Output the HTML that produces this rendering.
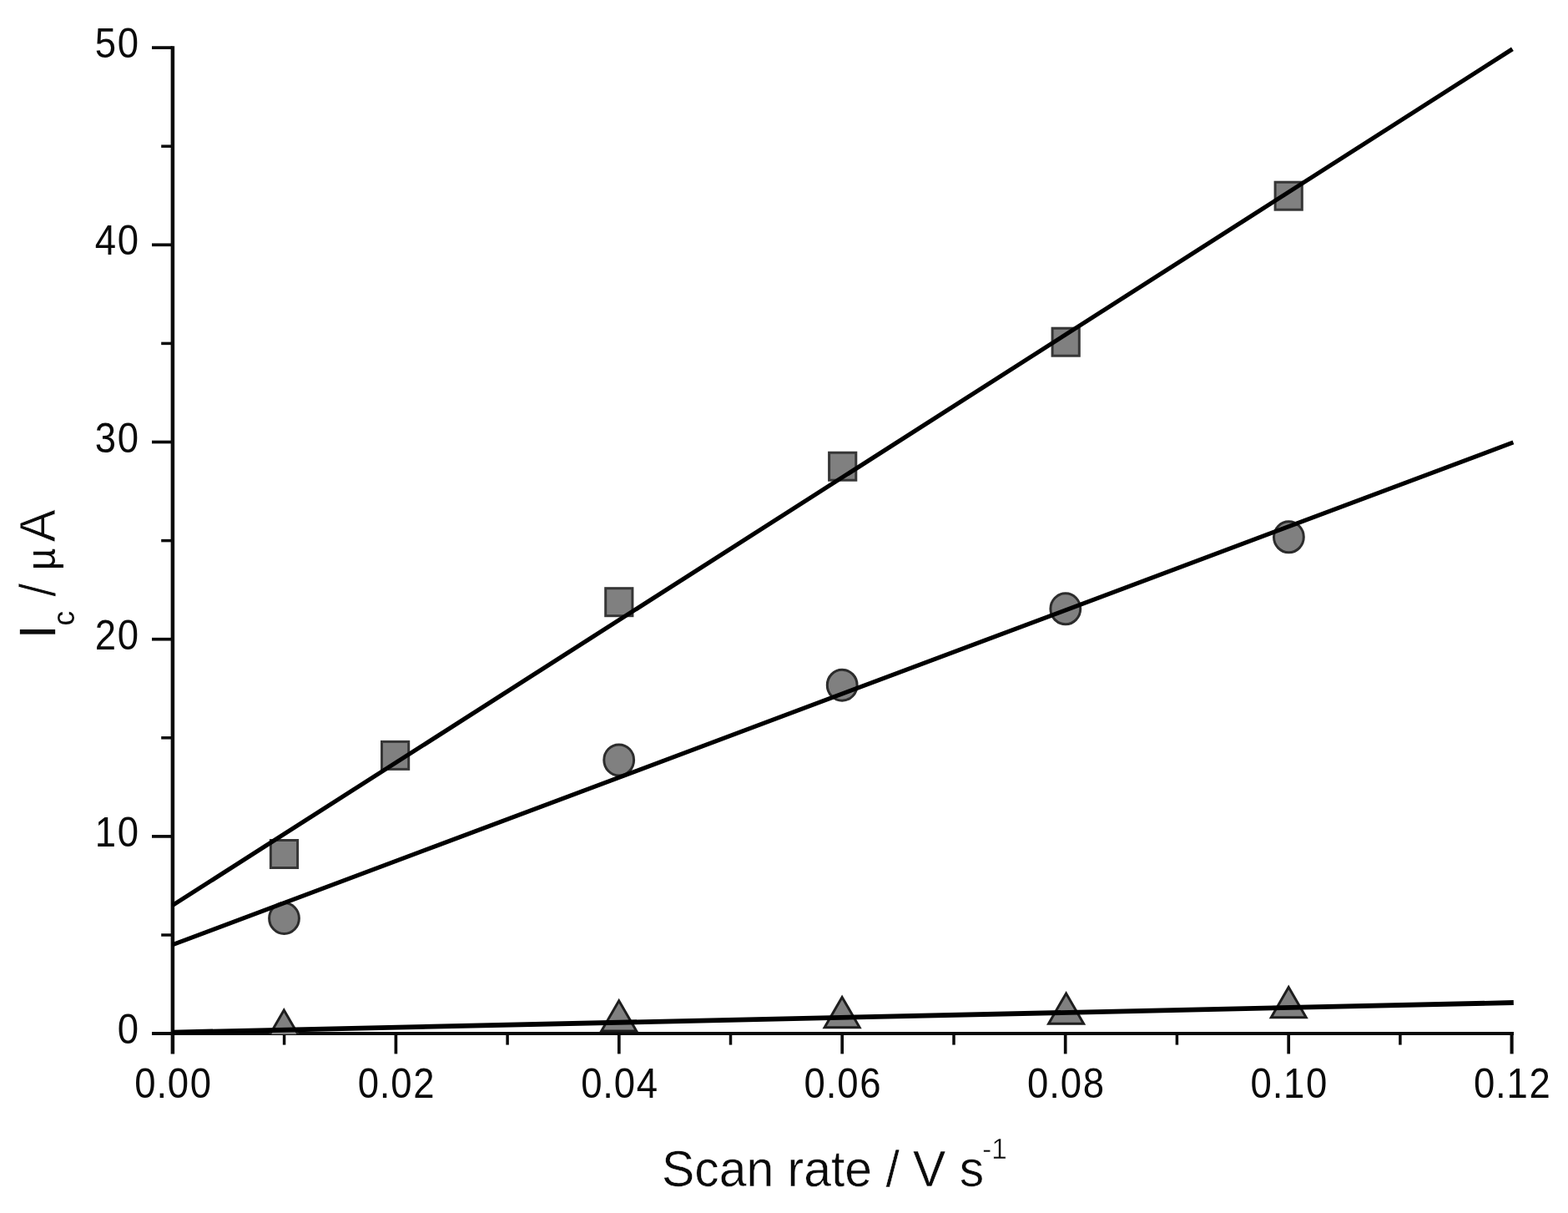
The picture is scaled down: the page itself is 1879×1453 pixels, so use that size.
<!DOCTYPE html>
<html lang="en"><head><meta charset="utf-8"><title>Ic / µA vs Scan rate / V s-1</title>
<style>
html,body{margin:0;padding:0;background:#fff;}
body{width:1879px;height:1453px;}
svg{display:block;}
text{font-family:"Liberation Sans",Arial,Helvetica,sans-serif;fill:#0a0a0a;}
.tk{font-size:50px;}
.tt{font-size:62px;}
.xt{stroke:#fff;stroke-width:0.5;}
.yt{stroke:none;}.thin{stroke:#fff;stroke-width:0.9;}.fat{stroke:#0a0a0a;stroke-width:0.3;}
.ax{stroke:#0a0a0a;fill:none;stroke-linecap:butt;}
.fit{stroke:#000;fill:none;stroke-width:5.2;stroke-linecap:butt;}
.sq{fill:#808080;stroke:#363636;stroke-width:3;}
.ci{fill:#808080;stroke:#2c2c2c;stroke-width:3;}
.tr{fill:#808080;stroke:#1e1e1e;stroke-width:3;stroke-linejoin:miter;}
</style></head><body>
<svg width="1879" height="1453" viewBox="0 0 1879 1453">
<defs><clipPath id="pc"><rect x="204.6" y="0" width="1611" height="1239"/></clipPath>
</defs>
<rect x="0" y="0" width="1879" height="1453" fill="#ffffff"/>
<g>
<g class="ax">
<line x1="206.9" y1="55.2" x2="206.9" y2="1262.6" stroke-width="4.5"/>
<line x1="182.0" y1="1238.1" x2="1814.0" y2="1238.1" stroke-width="4"/>
<line x1="193.2" y1="1120.0" x2="206.9" y2="1120.0" stroke-width="3.5"/>
<line x1="182" y1="1001.9" x2="206.9" y2="1001.9" stroke-width="3.7"/>
<line x1="193.2" y1="883.8" x2="206.9" y2="883.8" stroke-width="3.5"/>
<line x1="182" y1="765.7" x2="206.9" y2="765.7" stroke-width="3.7"/>
<line x1="193.2" y1="647.6" x2="206.9" y2="647.6" stroke-width="3.5"/>
<line x1="182" y1="529.5" x2="206.9" y2="529.5" stroke-width="3.7"/>
<line x1="193.2" y1="411.4" x2="206.9" y2="411.4" stroke-width="3.5"/>
<line x1="182" y1="293.3" x2="206.9" y2="293.3" stroke-width="3.7"/>
<line x1="193.2" y1="175.2" x2="206.9" y2="175.2" stroke-width="3.5"/>
<line x1="182" y1="57.1" x2="206.9" y2="57.1" stroke-width="3.7"/>
<line x1="340.6" y1="1238.1" x2="340.6" y2="1251.6" stroke-width="3.5"/>
<line x1="474.4" y1="1238.1" x2="474.4" y2="1262.4" stroke-width="3.7"/>
<line x1="608.1" y1="1238.1" x2="608.1" y2="1251.6" stroke-width="3.5"/>
<line x1="741.8" y1="1238.1" x2="741.8" y2="1262.4" stroke-width="3.7"/>
<line x1="875.5" y1="1238.1" x2="875.5" y2="1251.6" stroke-width="3.5"/>
<line x1="1009.2" y1="1238.1" x2="1009.2" y2="1262.4" stroke-width="3.7"/>
<line x1="1143.0" y1="1238.1" x2="1143.0" y2="1251.6" stroke-width="3.5"/>
<line x1="1276.7" y1="1238.1" x2="1276.7" y2="1262.4" stroke-width="3.7"/>
<line x1="1410.4" y1="1238.1" x2="1410.4" y2="1251.6" stroke-width="3.5"/>
<line x1="1544.2" y1="1238.1" x2="1544.2" y2="1262.4" stroke-width="3.7"/>
<line x1="1677.9" y1="1238.1" x2="1677.9" y2="1251.6" stroke-width="3.5"/>
<line x1="1811.6" y1="1238.1" x2="1811.6" y2="1262.4" stroke-width="4.1"/>
</g>
<g clip-path="url(#pc)">
<g class="sq">
<rect x="324.4" y="1006.5" width="32.2" height="33.0"/>
<rect x="457.5" y="888.4" width="32.2" height="33.0"/>
<rect x="725.7" y="704.7" width="32.2" height="33.0"/>
<rect x="993.6" y="542.2" width="32.2" height="33.0"/>
<rect x="1261.1" y="393.2" width="32.2" height="33.0"/>
<rect x="1528.1" y="218.2" width="32.2" height="33.0"/>
</g><g class="ci">
<ellipse cx="340.5" cy="1100.0" rx="17.9" ry="18.5"/>
<ellipse cx="741.7" cy="910.4" rx="17.9" ry="18.5"/>
<ellipse cx="1009.2" cy="820.7" rx="17.9" ry="18.5"/>
<ellipse cx="1276.8" cy="729.3" rx="17.9" ry="18.5"/>
<ellipse cx="1544.4" cy="643.3" rx="17.9" ry="18.5"/>
</g><g class="tr">
<path d="M340.3 1209.9 L361.3 1246.2 L319.3 1246.2 Z"/>
<path d="M741.7 1198.8 L762.7 1235.1 L720.7 1235.1 Z"/>
<path d="M1009.1 1194.4 L1030.1 1230.7 L988.1 1230.7 Z"/>
<path d="M1277.6 1189.9 L1298.6 1226.2 L1256.6 1226.2 Z"/>
<path d="M1544.2 1182.5 L1565.2 1218.8 L1523.3 1218.8 Z"/>
</g>
<line class="fit" x1="206.9" y1="1084.4" x2="1812.4" y2="58.8"/>
<line class="fit" x1="206.9" y1="1131.6" x2="1813.4" y2="529.9"/>
<line class="fit" x1="206.9" y1="1236.6" x2="1813.8" y2="1201.0" style="stroke-width:5.8"/>
</g>
<g class="tk">
<text transform="translate(0 1250.1) scale(0.91 1)" x="154.78" y="0">0</text>
<text transform="translate(0 1013.9) scale(0.91 1)" x="125.11 154.78" y="0">10</text>
<text transform="translate(0 777.7) scale(0.91 1)" x="125.11 154.78" y="0">20</text>
<text transform="translate(0 541.5) scale(0.91 1)" x="125.11 154.78" y="0">30</text>
<text transform="translate(0 305.3) scale(0.91 1)" x="125.11 154.78" y="0">40</text>
<text transform="translate(0 69.1) scale(0.91 1)" x="125.11 154.78" y="0">50</text>
<text transform="translate(0 1315.4) scale(0.91 1)" x="177.20 205.91 220.71 250.38" y="0">0.00</text>
<text transform="translate(0 1315.4) scale(0.91 1)" x="471.10 499.81 514.61 544.28" y="0">0.02</text>
<text transform="translate(0 1315.4) scale(0.91 1)" x="765.00 793.71 808.51 838.18" y="0">0.04</text>
<text transform="translate(0 1315.4) scale(0.91 1)" x="1058.90 1087.61 1102.41 1132.09" y="0">0.06</text>
<text transform="translate(0 1315.4) scale(0.91 1)" x="1352.80 1381.52 1396.32 1425.99" y="0">0.08</text>
<text transform="translate(0 1315.4) scale(0.91 1)" x="1646.70 1675.42 1690.22 1719.89" y="0">0.10</text>
<text transform="translate(0 1315.4) scale(0.91 1)" x="1940.60 1969.32 1984.12 2013.79" y="0">0.12</text>
</g>
<text class="tt xt" transform="translate(793.0 1421.0) scale(0.95 1)" x="0" y="0">Scan rate / V s<tspan dy="-33.2" dx="-2.0" font-size="35">-1</tspan></text>
<text class="tt yt" transform="translate(66 0) rotate(-90) scale(0.95 1)"><tspan class="fat" x="-805.16" y="0">I</tspan><tspan x="-789.05" y="22.8" font-size="37">c</tspan><tspan class="thin" x="-769.75" y="0"> / </tspan><tspan x="-718.95" y="0" font-size="48">µ</tspan><tspan class="thin" x="-683.79" y="0">A</tspan></text>
</g>
</svg>
</body></html>
